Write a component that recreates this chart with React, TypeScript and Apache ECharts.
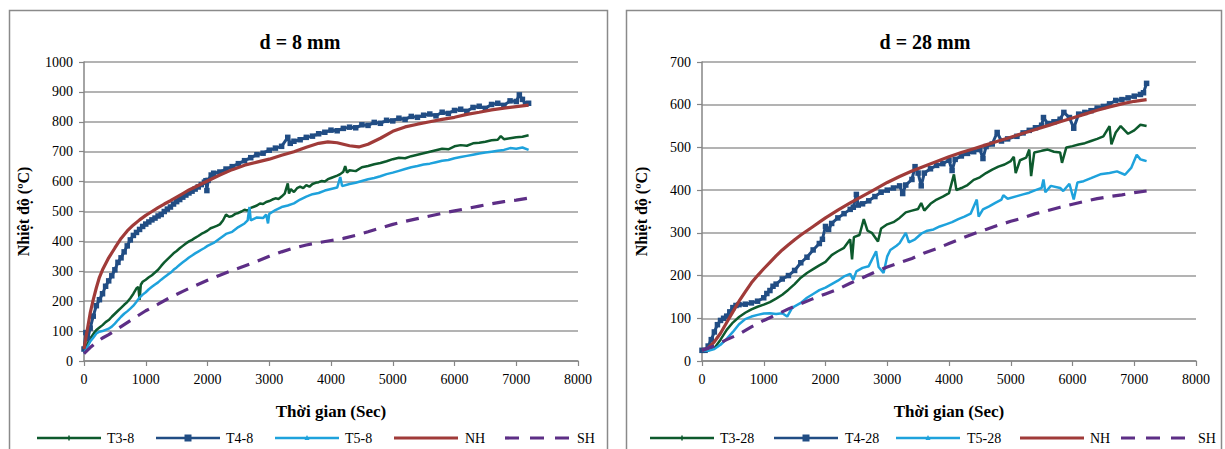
import React, { useEffect, useRef } from "react";
import * as echarts from "echarts";

const FONT = "Liberation Serif, Times New Roman, serif";

const xTicks = [0, 1000, 2000, 3000, 4000, 5000, 6000, 7000, 8000];
const titles = ["d = 8 mm", "d = 28 mm"];
const leftNames = ["T3-8", "T4-8", "T5-8", "NH", "SH"];
const rightNames = ["T3-28", "T4-28", "T5-28", "NH", "SH"];

// ---- d = 8 mm ----
const t3_8: number[][] = [
  [0, 30], [50, 55], [100, 75], [150, 90], [200, 104], [250, 112], [300, 120], [350, 130], [400, 137], [450, 148],
  [500, 158], [550, 168], [600, 178], [650, 188], [700, 197], [750, 210], [800, 225], [850, 243], [880, 248], [900, 204],
  [920, 255], [950, 265], [1000, 272], [1050, 280], [1100, 287], [1150, 296], [1200, 305], [1250, 318], [1300, 330],
  [1350, 340], [1400, 350], [1450, 360], [1500, 368], [1550, 377], [1600, 385], [1650, 393], [1700, 400], [1750, 405],
  [1800, 412], [1850, 418], [1900, 425], [1950, 430], [2000, 436], [2050, 444], [2100, 448], [2150, 452], [2200, 457],
  [2250, 470], [2300, 490], [2350, 482], [2400, 485], [2450, 492], [2500, 495], [2550, 500], [2600, 506], [2650, 503],
  [2700, 512], [2750, 516], [2800, 520], [2850, 527], [2900, 525], [2950, 532], [3000, 535], [3050, 540], [3100, 544],
  [3150, 542], [3200, 550], [3250, 560], [3300, 594], [3320, 560], [3350, 575], [3400, 565], [3450, 578], [3500, 583],
  [3550, 578], [3600, 588], [3650, 583], [3700, 592], [3750, 596], [3800, 598], [3850, 602], [3900, 600], [3950, 608],
  [4000, 612], [4100, 620], [4150, 625], [4200, 633], [4230, 652], [4260, 630], [4300, 638], [4400, 635], [4500, 648],
  [4600, 652], [4700, 658], [4800, 662], [4900, 668], [5000, 675], [5100, 680], [5200, 678], [5300, 685], [5400, 690],
  [5500, 695], [5600, 700], [5700, 705], [5800, 710], [5900, 708], [6000, 718], [6100, 722], [6200, 720], [6300, 728],
  [6400, 730], [6500, 733], [6600, 738], [6700, 740], [6750, 752], [6800, 742], [6900, 745], [7000, 748], [7100, 750],
  [7200, 755],
];
const t4_8: number[][] = [
  [0, 40], [30, 95], [60, 75], [100, 110], [150, 150], [200, 185], [250, 205], [300, 225], [350, 250], [400, 268],
  [450, 285], [500, 305], [550, 330], [600, 345], [650, 365], [700, 385], [750, 405], [800, 420], [850, 430], [900, 440],
  [950, 450], [1000, 458], [1050, 465], [1100, 472], [1150, 478], [1200, 485], [1250, 490], [1300, 500], [1350, 508],
  [1400, 515], [1450, 525], [1500, 533], [1550, 540], [1600, 548], [1650, 555], [1700, 562], [1750, 568], [1800, 575],
  [1850, 582], [1900, 590], [1950, 598], [1975, 603], [1990, 570], [2010, 604], [2060, 622], [2100, 628], [2200, 632],
  [2300, 642], [2400, 650], [2500, 660], [2600, 670], [2700, 680], [2800, 690], [2900, 695], [3000, 705], [3100, 712],
  [3200, 718], [3300, 748], [3340, 728], [3400, 735], [3500, 740], [3600, 748], [3700, 752], [3800, 760], [3900, 765],
  [4000, 772], [4100, 770], [4200, 778], [4300, 782], [4400, 780], [4500, 790], [4600, 788], [4700, 798], [4800, 795],
  [4900, 805], [5000, 803], [5100, 812], [5200, 808], [5300, 818], [5400, 815], [5500, 822], [5600, 826], [5700, 820],
  [5800, 832], [5900, 828], [6000, 838], [6100, 842], [6200, 835], [6300, 848], [6400, 852], [6500, 845], [6600, 858],
  [6700, 862], [6800, 855], [6900, 870], [7000, 868], [7050, 890], [7100, 875], [7150, 860], [7200, 862],
];
const t5_8: number[][] = [
  [0, 25], [50, 45], [100, 65], [150, 78], [200, 92], [250, 98], [300, 100], [350, 104], [400, 108], [450, 115],
  [500, 125], [550, 137], [600, 148], [650, 158], [700, 166], [750, 175], [800, 185], [850, 198], [900, 212], [950, 222],
  [1000, 230], [1050, 240], [1100, 248], [1150, 256], [1200, 263], [1250, 272], [1300, 280], [1350, 288], [1400, 295],
  [1450, 305], [1500, 313], [1550, 322], [1600, 330], [1650, 338], [1700, 346], [1750, 353], [1800, 360], [1850, 366],
  [1900, 372], [1950, 378], [2000, 385], [2100, 395], [2200, 410], [2300, 425], [2400, 432], [2500, 448], [2600, 460],
  [2650, 470], [2680, 515], [2700, 470], [2800, 480], [2900, 478], [2950, 490], [2980, 460], [3000, 492], [3100, 505],
  [3200, 515], [3300, 520], [3400, 527], [3500, 540], [3600, 550], [3700, 558], [3800, 562], [3900, 570], [4000, 575],
  [4100, 580], [4150, 615], [4180, 585], [4300, 592], [4400, 596], [4500, 602], [4600, 608], [4700, 612], [4800, 618],
  [4900, 625], [5000, 630], [5100, 636], [5200, 642], [5300, 648], [5400, 652], [5500, 657], [5600, 660], [5700, 665],
  [5800, 670], [5900, 672], [6000, 678], [6100, 682], [6200, 686], [6300, 690], [6400, 694], [6500, 697], [6600, 700],
  [6700, 703], [6800, 706], [6900, 712], [7000, 710], [7100, 714], [7200, 706],
];
const nh_8: number[][] = [
  [0, 40], [50, 100], [100, 160], [150, 205], [200, 245], [250, 280], [300, 305], [350, 325], [400, 345], [500, 378],
  [600, 410], [700, 435], [800, 455], [900, 472], [1000, 487], [1100, 500], [1200, 513], [1300, 525], [1400, 536],
  [1500, 548], [1600, 560], [1700, 572], [1800, 582], [1900, 592], [2000, 602], [2200, 622], [2400, 640], [2600, 655],
  [2800, 665], [3000, 675], [3200, 688], [3400, 700], [3600, 715], [3800, 728], [3950, 733], [4100, 730], [4300, 720],
  [4450, 716], [4600, 725], [4800, 745], [5000, 768], [5200, 783], [5400, 792], [5600, 800], [5800, 808], [6000, 815],
  [6200, 825], [6400, 832], [6600, 840], [6800, 846], [7000, 851], [7200, 856],
];
const sh_8: number[][] = [
  [0, 25], [100, 45], [200, 62], [300, 77], [400, 88], [600, 115], [800, 142], [1000, 168], [1200, 190], [1400, 213],
  [1600, 233], [1800, 252], [2000, 270], [2200, 287], [2400, 303], [2600, 318], [2800, 333], [3000, 350], [3200, 365],
  [3400, 378], [3600, 388], [3800, 396], [4000, 403], [4200, 410], [4400, 420], [4600, 432], [4800, 445], [5000, 457],
  [5200, 467], [5400, 476], [5600, 485], [5800, 494], [6000, 502], [6200, 510], [6400, 518], [6600, 526], [6800, 533],
  [7000, 538], [7200, 545],
];

// ---- d = 28 mm ----
const t3_28: number[][] = [
  [0, 25], [100, 25], [200, 30], [300, 50], [400, 73], [500, 90], [600, 103], [700, 113], [800, 121], [900, 127],
  [1000, 132], [1100, 138], [1200, 146], [1300, 155], [1400, 167], [1500, 180], [1600, 195], [1700, 206], [1800, 215],
  [1900, 224], [2000, 232], [2100, 248], [2200, 257], [2300, 265], [2400, 285], [2430, 238], [2460, 290], [2550, 295],
  [2620, 332], [2680, 305], [2750, 300], [2850, 280], [2900, 310], [3000, 320], [3100, 325], [3200, 335], [3300, 348],
  [3400, 352], [3500, 356], [3550, 370], [3600, 352], [3700, 368], [3800, 378], [3900, 385], [4000, 393], [4080, 437],
  [4120, 400], [4200, 405], [4300, 412], [4400, 424], [4500, 430], [4600, 440], [4700, 448], [4800, 455], [4900, 460],
  [5000, 468], [5050, 478], [5080, 440], [5150, 470], [5250, 476], [5300, 495], [5330, 433], [5380, 488], [5500, 492],
  [5600, 495], [5700, 490], [5800, 488], [5830, 464], [5900, 500], [6000, 503], [6100, 507], [6200, 510], [6300, 515],
  [6400, 520], [6500, 526], [6600, 550], [6630, 507], [6700, 535], [6780, 550], [6900, 532], [7000, 540], [7100, 553],
  [7200, 550],
];
const t4_28: number[][] = [
  [0, 25], [50, 25], [100, 35], [150, 50], [200, 68], [250, 85], [300, 95], [350, 100], [400, 105], [450, 115],
  [500, 125], [550, 130], [600, 132], [700, 133], [800, 136], [900, 140], [1000, 148], [1050, 158], [1100, 165],
  [1150, 175], [1200, 180], [1300, 192], [1400, 200], [1500, 212], [1600, 230], [1700, 243], [1800, 260], [1900, 275],
  [1950, 285], [2000, 315], [2050, 308], [2100, 322], [2200, 335], [2300, 345], [2400, 355], [2450, 360], [2500, 390],
  [2530, 365], [2600, 368], [2700, 375], [2800, 385], [2900, 395], [3000, 400], [3100, 405], [3200, 410], [3250, 392],
  [3300, 412], [3400, 425], [3450, 455], [3500, 440], [3550, 410], [3600, 440], [3700, 450], [3800, 458], [3900, 462],
  [4000, 470], [4050, 446], [4100, 472], [4200, 480], [4300, 486], [4400, 490], [4500, 495], [4550, 474], [4600, 502],
  [4700, 508], [4780, 535], [4850, 515], [4950, 520], [5100, 526], [5200, 534], [5300, 540], [5400, 546], [5500, 552],
  [5530, 570], [5600, 556], [5700, 560], [5800, 566], [5860, 582], [5950, 570], [6020, 545], [6100, 578], [6200, 582],
  [6300, 586], [6400, 592], [6500, 596], [6600, 602], [6700, 610], [6800, 612], [6900, 616], [7000, 620], [7100, 624],
  [7150, 628], [7200, 650],
];
const t5_28: number[][] = [
  [0, 25], [100, 24], [200, 28], [300, 38], [400, 52], [500, 68], [600, 86], [700, 98], [800, 104], [900, 108],
  [1000, 111], [1100, 112], [1200, 110], [1300, 112], [1380, 104], [1450, 122], [1500, 128], [1600, 136], [1700, 148],
  [1800, 157], [1900, 166], [2000, 172], [2100, 180], [2200, 188], [2300, 198], [2400, 204], [2450, 190], [2500, 210],
  [2600, 218], [2700, 222], [2820, 257], [2860, 220], [2940, 206], [3000, 245], [3050, 260], [3150, 270], [3200, 276],
  [3300, 300], [3350, 278], [3450, 285], [3550, 298], [3650, 305], [3750, 308], [3850, 315], [3950, 320], [4050, 325],
  [4150, 332], [4250, 338], [4350, 345], [4450, 378], [4480, 338], [4550, 355], [4650, 362], [4750, 370], [4850, 378],
  [4880, 388], [4950, 380], [5100, 386], [5200, 390], [5300, 394], [5400, 400], [5500, 405], [5530, 425], [5560, 395],
  [5650, 410], [5800, 405], [5850, 398], [5950, 415], [6020, 378], [6080, 418], [6180, 421], [6300, 428], [6450, 437],
  [6600, 440], [6720, 444], [6850, 436], [6950, 452], [7040, 483], [7100, 472], [7150, 470], [7200, 468],
];
const nh_28: number[][] = [
  [0, 25], [100, 30], [200, 45], [300, 65], [400, 90], [500, 115], [600, 140], [700, 162], [800, 183], [900, 200],
  [1000, 216], [1100, 231], [1200, 246], [1300, 260], [1400, 272], [1500, 284], [1600, 295], [1700, 305], [1800, 315],
  [1900, 325], [2000, 335], [2200, 353], [2400, 370], [2600, 386], [2800, 402], [3000, 418], [3200, 432], [3400, 445],
  [3600, 456], [3800, 467], [4000, 478], [4200, 488], [4400, 497], [4600, 506], [4800, 515], [5000, 524], [5200, 533],
  [5400, 542], [5600, 551], [5800, 560], [6000, 569], [6200, 578], [6400, 587], [6600, 595], [6800, 602], [7000, 608],
  [7200, 612],
];
const sh_28: number[][] = [
  [0, 25], [200, 35], [400, 50], [600, 63], [800, 80], [1000, 95], [1200, 108], [1400, 122], [1600, 134], [1800, 146],
  [2000, 157], [2200, 168], [2400, 182], [2600, 195], [2800, 208], [3000, 220], [3200, 230], [3400, 240], [3600, 253],
  [3800, 263], [4000, 275], [4200, 287], [4400, 298], [4600, 308], [4800, 318], [5000, 327], [5200, 335], [5400, 345],
  [5600, 352], [5800, 360], [6000, 367], [6200, 374], [6400, 380], [6600, 385], [6800, 389], [7000, 394], [7200, 398],
];

const COLORS = ["#0d5a2d", "#214d84", "#1ea2dc", "#a03b39", "#5d2e86"];
const WIDTHS = [2.5, 3, 2.5, 3.2, 3.2];
const SH_DASH = [13, 9];

function mkSeries(names: string[], data: number[][][], idx: number) {
  return names.map((n, i) => ({
    type: "line",
    name: n,
    xAxisIndex: idx,
    yAxisIndex: idx,
    data: data[i],
    symbol: i === 1 ? "rect" : "none",
    symbolSize: 5.5,
    showSymbol: i === 1,
    itemStyle: { color: COLORS[i] },
    lineStyle: { color: COLORS[i], width: WIDTHS[i], type: i === 4 ? SH_DASH : "solid" },
    emphasis: { disabled: true },
    z: 2 + i,
  }));
}

// legend layout (line start x, text x) for each panel
const legendLeft = [[37, 107], [156, 226], [275, 345], [394, 465], [505, 577]];
const legendRight = [[650, 720], [774, 845], [896, 967], [1020, 1090], [1121, 1198]];
const LEG_Y = 438;

function mkLegend(names: string[], pos: number[][]) {
  const out: any[] = [];
  names.forEach((n, i) => {
    const [x0, tx] = pos[i];
    const x1 = x0 + 64;
    out.push({
      type: "line",
      silent: true,
      shape: { x1: x0, y1: LEG_Y, x2: x1, y2: LEG_Y },
      style: { stroke: COLORS[i], lineWidth: i >= 3 ? 3.2 : 2.5, lineDash: i === 4 ? [14, 11] : null },
    });
    const cx = (x0 + x1) / 2;
    if (i === 1) {
      out.push({ type: "rect", silent: true, shape: { x: cx - 3.5, y: LEG_Y - 3.5, width: 7, height: 7 }, style: { fill: COLORS[i] } });
    } else if (i === 0) {
      out.push({ type: "line", silent: true, shape: { x1: cx, y1: LEG_Y - 2.5, x2: cx, y2: LEG_Y + 2.5 }, style: { stroke: COLORS[i], lineWidth: 1.5 } });
    } else if (i === 2) {
      out.push({ type: "polygon", silent: true, shape: { points: [[cx - 2.5, LEG_Y + 2], [cx + 2.5, LEG_Y + 2], [cx, LEG_Y - 3]] }, style: { fill: COLORS[i] } });
    }
    out.push({
      type: "text",
      silent: true,
      x: tx,
      y: LEG_Y,
      style: { text: n, font: `14px ${FONT}`, fill: "#000", textAlign: "left", textVerticalAlign: "middle" },
    });
  });
  return out;
}

const labelStyle = { color: "#000", fontSize: 14, fontFamily: FONT };
const nameStyle = { fontWeight: "bold", fontSize: 16, fontFamily: FONT, color: "#000" };

export default function App() {
  const ref = useRef<HTMLDivElement>(null);
  useEffect(() => {
    document.body.style.margin = "0";
    const chart = echarts.init(ref.current!, null, { renderer: "svg" });
    const axisLine = { show: true, lineStyle: { color: "#868686", width: 1.5 } };
    const axisTick = { show: true, inside: false, length: 5, lineStyle: { color: "#868686", width: 1.2 } };
    const xAxis = [0, 1].map((i) => ({
      type: "value",
      gridIndex: i,
      min: xTicks[0],
      max: xTicks[xTicks.length - 1],
      interval: 1000,
      name: "Thời gian (Sec)",
      nameLocation: "middle",
      nameGap: 42,
      nameTextStyle: { ...nameStyle, fontSize: 17 },
      axisLine,
      axisTick,
      splitLine: { show: false },
      axisLabel: { ...labelStyle, margin: 11, formatter: (v: number) => String(v) },
    }));
    const yAxis = [0, 1].map((i) => ({
      type: "value",
      gridIndex: i,
      min: 0,
      max: i === 0 ? 1000 : 700,
      interval: 100,
      name: "Nhiệt độ (ºC)",
      nameLocation: "middle",
      nameGap: 53,
      nameTextStyle: nameStyle,
      axisLine,
      axisTick,
      splitLine: { show: true, lineStyle: { color: "#9a9a9a", width: 1.6 } },
      axisLabel: { ...labelStyle, margin: 11, formatter: (v: number) => String(v) },
    }));
    chart.setOption({
      animation: false,
      backgroundColor: "#fff",
      grid: [
        { left: 84, right: 647, top: 62, bottom: 88 },
        { left: 702, right: 29, top: 62, bottom: 88 },
      ],
      xAxis,
      yAxis,
      graphic: [
        { type: "rect", silent: true, shape: { x: 9.5, y: 10.5, width: 598, height: 450 }, style: { fill: "none", stroke: "#8a8a8a", lineWidth: 1.5 } },
        { type: "rect", silent: true, shape: { x: 626.5, y: 10.5, width: 595, height: 450 }, style: { fill: "none", stroke: "#8a8a8a", lineWidth: 1.5 } },
        { type: "text", silent: true, x: 300, y: 42, style: { text: titles[0], font: `bold 20px ${FONT}`, fill: "#000", textAlign: "center", textVerticalAlign: "middle" } },
        { type: "text", silent: true, x: 925, y: 42, style: { text: titles[1], font: `bold 20px ${FONT}`, fill: "#000", textAlign: "center", textVerticalAlign: "middle" } },
        ...mkLegend(leftNames, legendLeft),
        ...mkLegend(rightNames, legendRight),
      ],
      series: [
        ...mkSeries(leftNames, [t3_8, t4_8, t5_8, nh_8, sh_8], 0),
        ...mkSeries(rightNames, [t3_28, t4_28, t5_28, nh_28, sh_28], 1),
      ],
    });
    return () => chart.dispose();
  }, []);
  return <div ref={ref} style={{ width: 1225, height: 449 }} />;
}
